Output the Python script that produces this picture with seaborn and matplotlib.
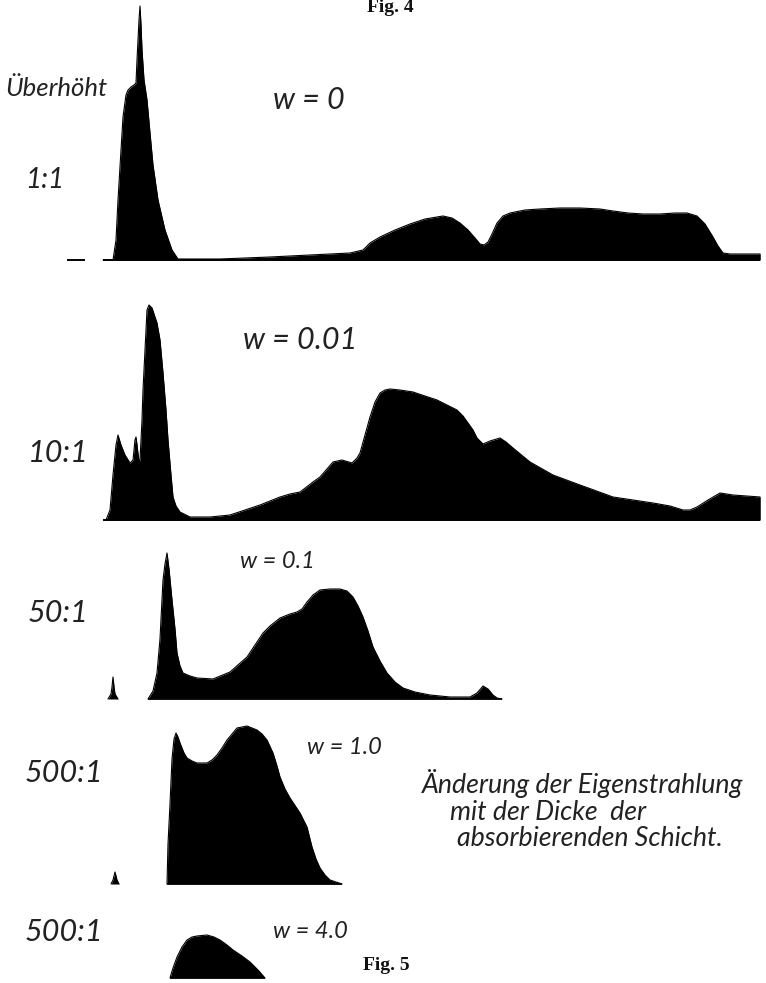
import numpy as np
import pandas as pd
import matplotlib
matplotlib.use("Agg")
import matplotlib.pyplot as plt
import seaborn as sns

# Emission spectra for increasing absorber thickness w (relative heights per panel)
w0_x = [103, 113, 116, 118, 121, 123, 126, 128, 131, 134, 136, 137, 138, 139, 140, 141, 142, 144, 147,
        150, 153, 158, 165, 172, 178, 220, 270, 310, 330, 350, 363, 370, 380, 395, 410, 425, 443, 452,
        460, 468, 475, 480, 484, 488, 492, 497, 503, 510, 525, 540, 560, 580, 600, 613, 628, 643, 660,
        675, 687, 697, 705, 713, 718, 723, 730, 760, 760]
w0_h = [0, 0, 20, 60, 110, 143, 165, 170, 173, 175, 177, 200, 220, 240, 254, 235, 210, 180, 160,
        127, 95, 60, 30, 10, 1, 1, 3, 5, 6, 7, 10, 17, 23, 30, 36, 41, 44, 42,
        37, 30, 22, 16, 15, 18, 26, 37, 44, 47, 50, 51, 52, 52, 51, 49, 47, 46, 46,
        47, 47, 44, 36, 23, 14, 7, 6, 6, 0]

w001_x = [106, 110, 113, 116, 118, 121, 125, 130, 133, 135, 136, 137, 139, 140, 142, 143, 145, 147, 149,
          152, 157, 160, 163, 166, 168, 171, 173, 176, 180, 190, 210, 230, 260, 280, 290, 300, 313, 320,
          333, 342, 352, 357, 360, 365, 370, 375, 380, 385, 390, 400, 413, 425, 437, 447, 457, 463, 468,
          473, 477, 483, 490, 500, 506, 513, 530, 553, 580, 613, 653, 670, 683, 690, 697, 708, 720, 733,
          760, 760]
w001_h = [0, 10, 45, 75, 85, 75, 65, 57, 60, 80, 83, 75, 58, 60, 100, 130, 170, 210, 215,
          212, 197, 180, 147, 110, 80, 45, 23, 14, 8, 3, 3, 5, 15, 23, 26, 28, 38, 43,
          58, 60, 57, 62, 67, 85, 103, 118, 127, 130, 131, 130, 128, 124, 120, 115, 110, 104, 97,
          90, 82, 76, 79, 82, 78, 72, 58, 45, 35, 23, 17, 14, 10, 10, 13, 20, 27, 25,
          23, 0]

w01_x = [148, 153, 157, 160, 163, 165, 167, 169, 172, 175, 177, 180, 183, 190, 197, 213, 230, 247, 263,
         270, 280, 290, 297, 302, 307, 313, 320, 330, 340, 347, 353, 358, 363, 368, 373, 380, 387, 395,
         403, 415, 430, 450, 463, 470, 477, 483, 488, 493, 497, 502]
w01_h = [0, 8, 26, 60, 119, 135, 146, 130, 99, 70, 46, 33, 26, 23, 21, 20, 27, 42, 66,
         73, 81, 85, 87, 90, 97, 104, 109, 110, 110, 108, 102, 93, 82, 68, 52, 38, 26, 17,
         11, 7, 4, 2, 2, 2, 6, 13, 10, 4, 1, 0]
w01_line_x = [108, 111, 112, 113, 114, 115, 118]
w01_line_h = [0, 5, 12, 22, 12, 5, 0]

w1_x = [167, 168, 170, 172, 174, 176, 178, 180, 184, 187, 192, 197, 207, 212, 217, 222, 227, 232, 237,
        247, 257, 262, 267, 273, 277, 280, 285, 290, 300, 307, 312, 316, 320, 325, 330, 342]
w1_h = [0, 40, 80, 125, 145, 151, 147, 141, 131, 126, 123, 121, 121, 124, 129, 136, 144, 150, 156,
        158, 154, 150, 144, 131, 118, 107, 95, 86, 71, 57, 37, 25, 16, 9, 4, 0]
w1_line_x = [111, 113, 115, 117, 119]
w1_line_h = [0, 4, 12, 4, 0]

w4_x = [170, 173, 177, 182, 187, 192, 197, 207, 214, 220, 227, 233, 242, 250, 258, 265]
w4_h = [0, 10, 21, 31, 38, 41, 42, 43, 41, 38, 33, 28, 22, 16, 8, 0]

scale_labels = ["Überhöht", "1:1", "10:1", "50:1", "500:1", "500:1"]
w_labels = ["w = 0", "w = 0.01", "w = 0.1", "w = 1.0", "w = 4.0"]
caption = ["Änderung der Eigenstrahlung", "mit der Dicke  der", "absorbierenden Schicht."]

sns.set_theme(style="white")
plt.rcParams["font.family"] = ["Lato", "DejaVu Sans"]

fig = plt.figure(figsize=(7.66, 9.83), dpi=100)
ax = fig.add_axes([0, 0, 1, 1])
ax.set_xlim(0, 766)
ax.set_ylim(983, 0)
ax.axis("off")

hand = dict(family=["Lato", "DejaVu Sans"], style="italic",
            fontweight="normal", color="#222222")
serif = dict(family=["Liberation Serif", "DejaVu Serif"], fontweight="bold", color="#111111")

panels = [
    (w0_x, w0_h, 260),
    (w001_x, w001_h, 520),
    (w01_x, w01_h, 699),
    (w1_x, w1_h, 884),
    (w4_x, w4_h, 978),
]
extras = [
    (w01_line_x, w01_line_h, 699),
    (w1_line_x, w1_line_h, 884),
]

for xs, hs, base in panels + extras:
    df = pd.DataFrame({"x": xs, "y": base - np.asarray(hs, dtype=float)})
    ax.fill_between(df["x"], df["y"], base, color="black", lw=0)
    sns.lineplot(data=df, x="x", y="y", ax=ax, color="black", lw=0.8,
                 sort=False, estimator=None)

# baselines
ax.hlines(260, 67, 85, color="black", lw=1.4)
ax.hlines(260, 103, 760, color="black", lw=1.4)
ax.hlines(520, 103, 760, color="black", lw=1.4)
ax.hlines(699, 148, 502, color="black", lw=1.2)
ax.hlines(884, 167, 342, color="black", lw=1.2)
ax.hlines(978, 170, 265, color="black", lw=1.2)

# scale labels
ax.text(5, 88, scale_labels[0], fontsize=18.5, ha="left", va="center", **hand)
ax.text(25, 180, scale_labels[1], fontsize=20, ha="left", va="center", **hand)
ax.text(28, 453, scale_labels[2], fontsize=22, ha="left", va="center", **hand)
ax.text(28, 613, scale_labels[3], fontsize=22, ha="left", va="center", **hand)
ax.text(25, 773, scale_labels[4], fontsize=22, ha="left", va="center", **hand)
ax.text(25, 932, scale_labels[5], fontsize=22, ha="left", va="center", **hand)

# absorber thickness labels
ax.text(273, 100, w_labels[0], fontsize=22, ha="left", va="center", **hand)
ax.text(243, 340, w_labels[1], fontsize=22, ha="left", va="center", **hand)
ax.text(240, 562, w_labels[2], fontsize=17, ha="left", va="center", **hand)
ax.text(307, 747, w_labels[3], fontsize=17, ha="left", va="center", **hand)
ax.text(273, 932, w_labels[4], fontsize=17, ha="left", va="center", **hand)

# caption
ax.text(422, 783, caption[0], fontsize=19.3, ha="left", va="center", **hand)
ax.text(450, 812, caption[1], fontsize=19.3, ha="left", va="center", **hand)
ax.text(457, 838, caption[2], fontsize=19.3, ha="left", va="center", **hand)

# figure numbers
ax.text(390, 7, "Fig. 4", fontsize=14, ha="center", va="center", **serif)
ax.text(386, 965, "Fig. 5", fontsize=14, ha="center", va="center", **serif)

fig.savefig("out.png", dpi=100, facecolor="white")
